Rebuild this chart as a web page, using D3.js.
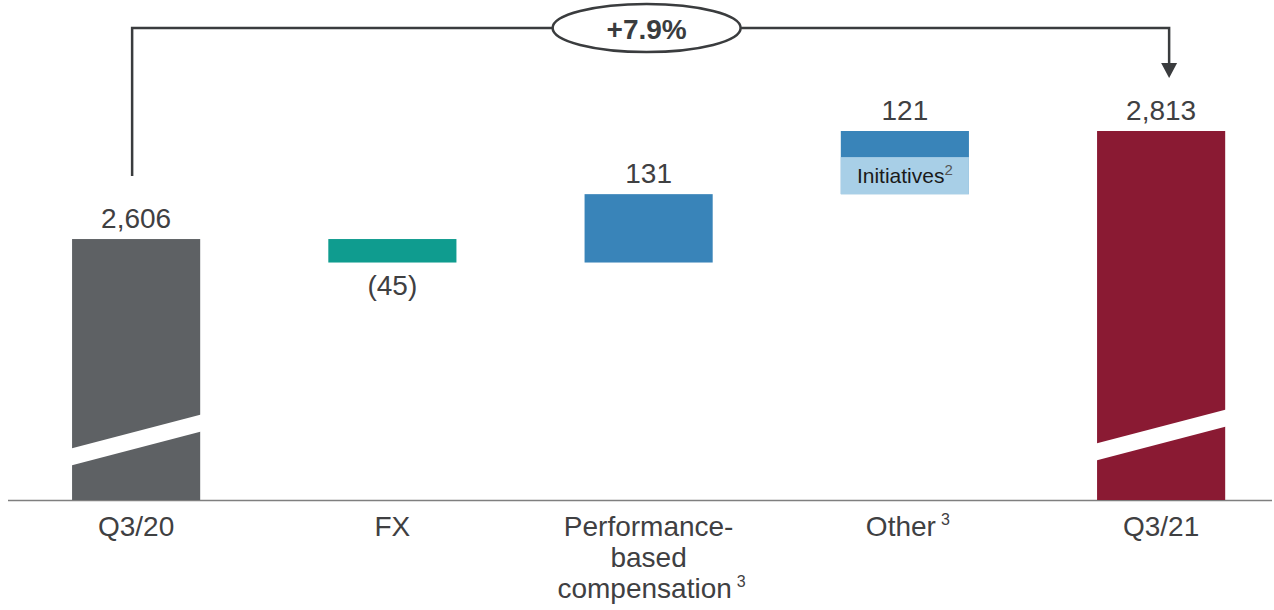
<!DOCTYPE html>
<html>
<head>
<meta charset="utf-8">
<script src="https://cdn.jsdelivr.net/npm/d3@7"></script>
<style>
  body { margin: 0; background: #fff; }
  svg text { font-family: "Liberation Sans", Arial, sans-serif; }
</style>
</head>
<body>
<div id="chart"></div>
<script>
// Waterfall data, Q3/20 -> Q3/21
var categories = ["Q3/20", "FX", "Performance-based compensation", "Other", "Q3/21"];
var labelLines = [["Q3/20"], ["FX"], ["Performance-", "based", "compensation"], ["Other"], ["Q3/21"]];
var footnotes = ["", "", "3", "3", ""];
var kinds = ["total", "delta", "delta", "delta", "total"];
var values = [2606, -45, 131, 121, 2813];
var valueLabels = ["2,606", "(45)", "131", "121", "2,813"];
var initiatives = 71;          // part of "Other"
var growthLabel = "+7.9%";
var colors = ["#5e6164", "#0f9c8f", "#3984b9", "#3984b9", "#8a1a33"];
var initiativesColor = "#a8cfe7";

var W = 1274, H = 610;
var baseY = 500;
var textColor = "#3f4042";

var svg = d3.select("#chart").append("svg")
  .attr("width", W).attr("height", H);

var x = d3.scaleBand()
  .domain(categories)
  .range([8, 1289.25])
  .paddingInner(0.5)
  .paddingOuter(0.25);

var y = d3.scaleLinear()
  .domain([2106, 2813])
  .range([baseY, 131]);

// build the waterfall segments
var running = 0;
var bars = categories.map(function(c, i) {
  var lo, hi;
  if (kinds[i] === "total") {
    lo = y.domain()[0];
    hi = values[i];
    running = values[i];
  } else {
    var next = running + values[i];
    lo = Math.min(running, next);
    hi = Math.max(running, next);
    running = next;
  }
  return {cat: c, lo: lo, hi: hi, value: values[i], label: valueLabels[i], color: colors[i], kind: kinds[i], i: i};
});

// axis baseline
svg.append("line")
  .attr("x1", 8).attr("x2", 1272)
  .attr("y1", baseY + 0.5).attr("y2", baseY + 0.5)
  .attr("stroke", "#7f7f7f")
  .attr("stroke-width", 1.5);

svg.selectAll("rect.bar")
  .data(bars)
  .enter().append("rect")
  .attr("class", "bar")
  .attr("x", function(d) { return x(d.cat); })
  .attr("width", x.bandwidth())
  .attr("y", function(d) { return y(d.hi); })
  .attr("height", function(d) { return y(d.lo) - y(d.hi); })
  .attr("fill", function(d) { return d.color; });

// initiatives portion of "Other" (lower part of the bar)
var other = bars[3];
svg.append("rect")
  .attr("x", x(other.cat))
  .attr("width", x.bandwidth())
  .attr("y", y(other.lo + initiatives))
  .attr("height", y(other.lo) - y(other.lo + initiatives))
  .attr("fill", initiativesColor);

var initText = svg.append("text")
  .attr("x", x(other.cat) + x.bandwidth() / 2)
  .attr("y", y(other.lo) - 11)
  .attr("text-anchor", "middle")
  .attr("font-size", 21)
  .attr("fill", "#1a1a1a");
initText.append("tspan").text("Initiatives");
initText.append("tspan")
  .attr("dy", -8)
  .attr("font-size", 15)
  .attr("fill", "#555")
  .text("2");

// axis break on the total bars
svg.selectAll("path.break")
  .data(bars.filter(function(d) { return d.kind === "total"; }))
  .enter().append("path")
  .attr("class", "break")
  .attr("fill", "#fff")
  .attr("d", function(d) {
    var x0 = x(d.cat) - 1, x1 = x(d.cat) + x.bandwidth() + 1;
    var l = baseY - (d.i === 0 ? 43 : 48);
    var r = l - 34;
    var t = 8.5;
    return "M" + x0 + "," + (l - t) + "L" + x1 + "," + (r - t) +
           "L" + x1 + "," + (r + t) + "L" + x0 + "," + (l + t) + "Z";
  });

// value labels
svg.selectAll("text.value")
  .data(bars)
  .enter().append("text")
  .attr("class", "value")
  .attr("x", function(d) { return x(d.cat) + x.bandwidth() / 2; })
  .attr("y", function(d) {
    if (d.value < 0) return y(d.lo) + 32;
    return y(d.hi) - 11;
  })
  .attr("text-anchor", "middle")
  .attr("font-size", 28)
  .attr("fill", textColor)
  .text(function(d) { return d.label; });

// category labels
var cats = svg.selectAll("text.cat")
  .data(bars)
  .enter().append("text")
  .attr("class", "cat")
  .attr("font-size", 28)
  .attr("fill", textColor);

cats.each(function(d) {
  var t = d3.select(this);
  var cx = x(d.cat) + x.bandwidth() / 2;
  var lines = labelLines[d.i];
  lines.forEach(function(line, j) {
    var last = j === lines.length - 1;
    var fn = last ? footnotes[d.i] : "";
    // measure-free centring: main text centred, footnote hangs to the right
    var g = t.append("tspan")
      .attr("x", cx - (fn ? 4 : 0))
      .attr("y", baseY + 36 + j * 31)
      .attr("text-anchor", "middle")
      .text(line);
    if (fn) {
      svg.append("text")
        .attr("class", "footnote")
        .attr("font-size", 16)
        .attr("fill", textColor)
        .attr("y", baseY + 36 + j * 31 - 11)
        .attr("x", cx - 4 + g.node().getComputedTextLength() / 2 + 5)
        .text(fn);
    }
  });
});

// growth connector with ellipse
var xs = x(categories[0]) + x.bandwidth() / 2 - 4;
var xe = x(categories[4]) + x.bandwidth() / 2 + 8;
var topY = 28;
var lineColor = "#3a3c3e";

svg.append("path")
  .attr("d", "M" + xs + "," + (y(values[0]) - 63) + "V" + topY + "H" + xe + "V" + 64)
  .attr("fill", "none")
  .attr("stroke", lineColor)
  .attr("stroke-width", 2.5);

svg.append("path")
  .attr("d", "M" + (xe - 8) + ",63L" + (xe + 8) + ",63L" + xe + ",78Z")
  .attr("fill", lineColor);

var ex = (x(categories[2]) + x.bandwidth() / 2) - 2;
svg.append("ellipse")
  .attr("cx", ex).attr("cy", topY)
  .attr("rx", 94).attr("ry", 24)
  .attr("fill", "#fff")
  .attr("stroke", lineColor)
  .attr("stroke-width", 2.5);

svg.append("text")
  .attr("x", ex).attr("y", topY + 11)
  .attr("text-anchor", "middle")
  .attr("font-size", 28)
  .attr("font-weight", "bold")
  .attr("fill", lineColor)
  .text(growthLabel);
</script>
</body>
</html>
